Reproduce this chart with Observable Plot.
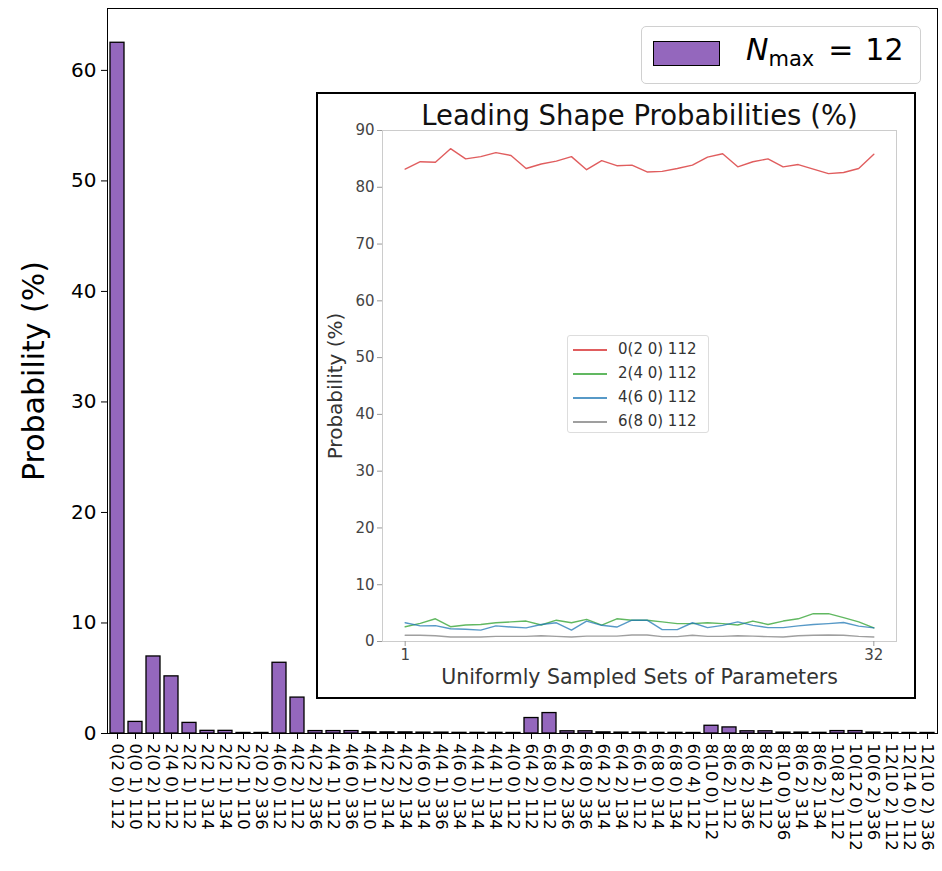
<!DOCTYPE html>
<html><head><meta charset="utf-8">
<script src="https://cdn.jsdelivr.net/npm/d3@7"></script>
<script src="https://cdn.jsdelivr.net/npm/@observablehq/plot@0.6"></script>
<style>
body{margin:0;background:#fff;}
#wrap{position:relative;width:942px;height:871px;font-family:"DejaVu Sans",sans-serif;overflow:hidden;}
#wrap svg{position:absolute;left:0;top:0;}
#inset{position:absolute;left:316px;top:92px;width:600px;height:607px;background:#fff;}
#insetBorder{position:absolute;left:316px;top:92px;width:600px;height:607px;box-sizing:border-box;border:2.5px solid #000;}
#legMain{position:absolute;left:641px;top:26px;width:280px;height:58px;box-sizing:border-box;border:1px solid #d0d0d0;border-radius:5px;background:#fff;}
#legMain .patch{position:absolute;left:11px;top:14px;width:67px;height:25px;box-sizing:border-box;background:#9467bd;border:1.3px solid #000;}
#legMain .txt{position:absolute;left:104px;top:5px;font-size:30px;color:#000;white-space:nowrap;}
#legMain sub{font-size:21px;vertical-align:-6px;}
#legMain .eq{margin:0 12px 0 14px;}
#legInset{position:absolute;left:567px;top:335px;width:142px;height:98px;box-sizing:border-box;border:1px solid #ddd;border-radius:3px;background:#fff;}
#legInset .row{position:absolute;left:0;width:140px;height:20px;font-size:15px;color:#333;white-space:nowrap;}
#legInset .sw{position:absolute;left:5px;top:10px;width:34px;height:1.5px;display:block;}
#legInset .lab{position:absolute;left:50px;top:1px;}
</style></head><body><div id="wrap"></div>
<script>
// ---- main bar chart data ----
const categories = [
  "0(2 0) 112","0(0 1) 110","2(0 2) 112","2(4 0) 112","2(2 1) 112","2(2 1) 314","2(2 1) 134","2(2 1) 110","2(0 2) 336",
  "4(6 0) 112","4(2 2) 112","4(2 2) 336","4(4 1) 112","4(6 0) 336","4(4 1) 110","4(2 2) 314","4(2 2) 134","4(6 0) 314",
  "4(4 1) 336","4(6 0) 134","4(4 1) 314","4(4 1) 134","4(0 0) 112",
  "6(4 2) 112","6(8 0) 112","6(4 2) 336","6(8 0) 336","6(4 2) 314","6(4 2) 134","6(6 1) 112","6(8 0) 314","6(8 0) 134","6(0 4) 112",
  "8(10 0) 112","8(6 2) 112","8(6 2) 336","8(2 4) 112","8(10 0) 336","8(6 2) 314","8(6 2) 134",
  "10(8 2) 112","10(12 0) 112","10(6 2) 336","12(10 2) 112","12(14 0) 112","12(10 2) 336"
];
const probabilities = [
  62.5, 1.05, 6.97, 5.17, 0.96, 0.24, 0.24, 0.05, 0.05,
  6.4, 3.25, 0.22, 0.22, 0.22, 0.1, 0.1, 0.1, 0.08,
  0.08, 0.06, 0.06, 0.06, 0.05,
  1.4, 1.85, 0.2, 0.2, 0.1, 0.08, 0.08, 0.06, 0.06, 0.05,
  0.7, 0.55, 0.2, 0.2, 0.08, 0.08, 0.06,
  0.22, 0.22, 0.08, 0.05, 0.05, 0.05
];
const yTicks = [0, 10, 20, 30, 40, 50, 60];

// ---- inset line data ----
const sampleSets = [1,2,3,4,5,6,7,8,9,10,11,12,13,14,15,16,17,18,19,20,21,22,23,24,25,26,27,28,29,30,31,32];
const shapeNames = ["0(2 0) 112","2(4 0) 112","4(6 0) 112","6(8 0) 112"];
const shapeColors = ["#d62728","#2ca02c","#1f77b4","#7f7f7f"];
const shape0 = [83.2,84.5,84.4,86.8,85.0,85.4,86.1,85.6,83.3,84.1,84.6,85.4,83.1,84.7,83.8,83.9,82.7,82.8,83.3,83.9,85.3,85.9,83.6,84.5,85.0,83.6,84.0,83.2,82.4,82.6,83.3,85.8];
const shape1 = [2.6,3.2,4.0,2.6,2.9,3.0,3.3,3.45,3.6,2.9,3.75,3.3,3.9,2.9,4.0,3.75,3.75,3.45,3.15,3.15,3.3,3.15,2.9,3.6,3.0,3.6,4.0,4.9,4.9,4.2,3.45,2.4];
const shape2 = [3.3,2.75,2.8,2.25,2.15,2.0,2.75,2.55,2.4,3.0,3.3,2.0,3.6,2.85,2.55,3.75,3.75,2.1,2.1,3.3,2.45,2.85,3.45,2.85,2.45,2.45,2.75,3.0,3.15,3.35,2.7,2.4];
const shape3 = [1.1,1.1,1.0,0.8,0.8,0.8,0.9,0.9,0.9,1.0,0.9,0.8,0.95,0.95,0.95,1.15,1.15,0.85,0.85,1.1,0.9,0.9,1.0,0.95,0.85,0.8,1.0,1.1,1.15,1.1,0.9,0.8];
const insetYTicks = [0,10,20,30,40,50,60,70,80,90];
const insetXTicks = [1, 32];

const FONT = "DejaVu Sans";
const wrap = document.getElementById("wrap");

const bars = categories.map((c, i) => ({shape: c, p: probabilities[i]}));
const main = Plot.plot({
  width: 942, height: 871,
  marginLeft: 107, marginRight: 5, marginTop: 8, marginBottom: 138,
  style: {fontFamily: FONT, background: "white", color: "black", overflow: "visible"},
  x: {type: "band", domain: categories, paddingInner: 0.2, paddingOuter: 0, align: 0.5},
  y: {domain: [0, 65.6]},
  marks: [
    Plot.barY(bars, {x: "shape", y: "p", fill: "#9467bd", stroke: "black", strokeWidth: 1.3}),
    Plot.frame({stroke: "black", strokeWidth: 1}),
    Plot.axisY({ticks: yTicks, tickSize: 6, tickPadding: 5, fontSize: 20, label: null}),
    Plot.axisX({tickSize: 6, tickPadding: 4, tickRotate: 90, fontSize: 16.5, label: null}),
    Plot.text(["Probability (%)"], {frameAnchor: "left", textAnchor: "middle", dx: -73, rotate: -90, fontSize: 30})
  ]
});
wrap.appendChild(main);

// inset
const inset = document.createElement("div");
inset.id = "inset";
wrap.appendChild(inset);
const lineData = [];
[shape0, shape1, shape2, shape3].forEach((vals, k) => vals.forEach((v, i) => lineData.push({set: sampleSets[i], p: v, shape: shapeNames[k]})));
const insetPlot = Plot.plot({
  width: 600, height: 607,
  marginLeft: 66, marginRight: 20, marginTop: 38, marginBottom: 58,
  style: {fontFamily: FONT, background: "white", color: "#333", overflow: "visible"},
  x: {domain: [-0.5, 33.5]},
  y: {domain: [0, 90]},
  color: {domain: shapeNames, range: shapeColors},
  marks: [
    Plot.frame({stroke: "#cccccc", strokeWidth: 1}),
    Plot.lineY(lineData, {x: "set", y: "p", stroke: "shape", z: "shape", strokeWidth: 1.4, strokeOpacity: 0.75}),
    Plot.axisY({ticks: insetYTicks, tickSize: 5, tickPadding: 3, fontSize: 15, stroke: "#999", fill: "#444", label: null}),
    Plot.axisX({ticks: insetXTicks, tickSize: 5, tickPadding: 3, fontSize: 15, stroke: "#999", fill: "#444", label: null}),
    Plot.text(["Probability (%)"], {frameAnchor: "left", textAnchor: "middle", dx: -47, rotate: -90, fontSize: 20, fill: "#333"}),
    Plot.text(["Uniformly Sampled Sets of Parameters"], {frameAnchor: "bottom", textAnchor: "middle", dy: 42, fontSize: 20.5, fill: "#333"}),
    Plot.text(["Leading Shape Probabilities (%)"], {frameAnchor: "top", textAnchor: "middle", dy: -25, fontSize: 27.5, fill: "#111"})
  ]
});
inset.appendChild(insetPlot);
const border = document.createElement("div");
border.id = "insetBorder";
wrap.appendChild(border);

// inset legend
const legI = document.createElement("div");
legI.id = "legInset";
shapeNames.forEach((n, k) => {
  const row = document.createElement("div");
  row.className = "row";
  row.style.top = (3 + k * 24) + "px";
  const sw = document.createElement("span");
  sw.className = "sw";
  sw.style.background = shapeColors[k];
  sw.style.opacity = "0.75";
  const lab = document.createElement("span");
  lab.className = "lab";
  lab.textContent = n;
  row.appendChild(sw);
  row.appendChild(lab);
  legI.appendChild(row);
});
wrap.appendChild(legI);

// main legend
const legM = document.createElement("div");
legM.id = "legMain";
legM.innerHTML = `<div class="patch"></div><div class="txt"><i>N</i><sub>max</sub><span class="eq">=</span>12</div>`;
wrap.appendChild(legM);
</script>
</body></html>
